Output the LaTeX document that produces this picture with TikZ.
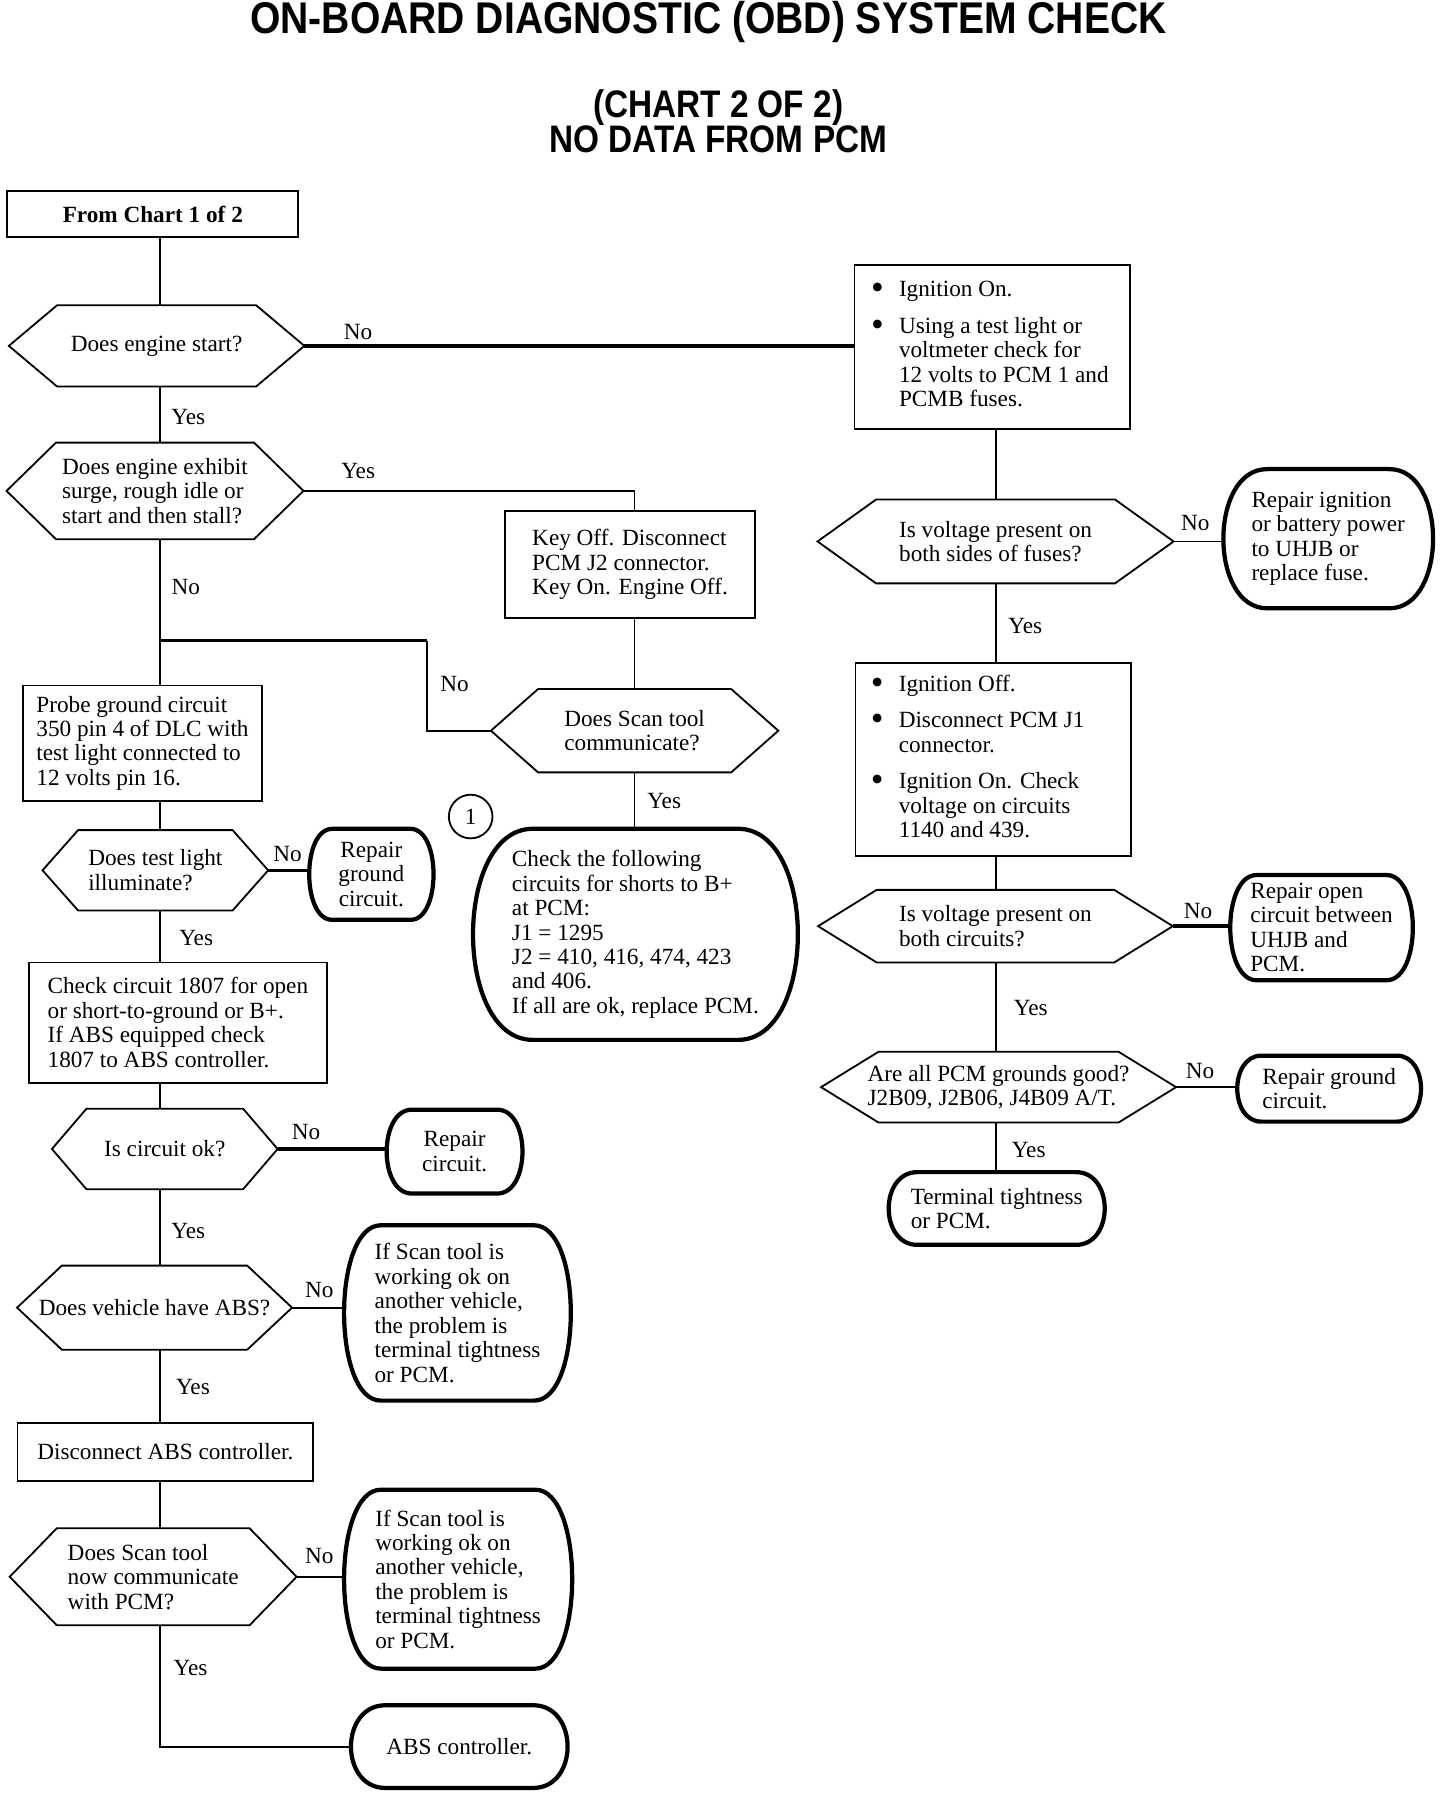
\documentclass[tikz,border=0pt]{standalone}
\usepackage{graphicx}
\usepackage{fontspec}
\setmainfont{Liberation Serif}
\newfontfamily\ttlfont{Liberation Sans}
\usetikzlibrary{calc}
\newcommand\txtf{\fontsize{11.5}{12.1}\selectfont}
\newcommand\bul{\raisebox{-1.4pt}{\fontsize{18}{12}\selectfont\textbullet}}
\newcommand\hexa[2]{\draw[boxline] (#1.west) -- ([xshift=#2*0.02cm]#1.north west) -- ([xshift=-#2*0.02cm]#1.north east) -- (#1.east) -- ([xshift=-#2*0.02cm]#1.south east) -- ([xshift=#2*0.02cm]#1.south west) -- cycle;}
\newcommand\barrel[2]{\draw[termline] ([xshift=#2*0.02cm]#1.north west) -- ([xshift=-#2*0.02cm]#1.north east) .. controls ([xshift=#2*0.00667cm]#1.north east) and ([xshift=#2*0.00667cm]#1.south east) .. ([xshift=-#2*0.02cm]#1.south east) -- ([xshift=#2*0.02cm]#1.south west) .. controls ([xshift=-#2*0.00667cm]#1.south west) and ([xshift=-#2*0.00667cm]#1.north west) .. cycle;}
\begin{document}
\begin{tikzpicture}[x=0.02cm,y=-0.02cm,
  conn/.style={line width=0.9pt},
  thickconn/.style={line width=1.7pt},
  boxline/.style={line width=0.9pt, line join=miter},
  termline/.style={line width=2.1pt},
  sz/.style 2 args={minimum width=#1*0.02cm, minimum height=#2*0.02cm},
  shp/.style={inner sep=0pt, align=left, font=\txtf},
  rectbox/.style={shp, draw, line width=0.9pt},
  lab/.style={font=\txtf, inner sep=1pt}]
\useasboundingbox (0,0) rectangle (1253.2,1563);

% titles
\node[font=\ttlfont\bfseries\fontsize{22}{24}\selectfont] (title) at (616.5,19) {\scalebox{0.88}[1]{ON-BOARD DIAGNOSTIC (OBD) SYSTEM CHECK}};
\node[font=\ttlfont\bfseries\fontsize{19}{17.6}\selectfont, align=center] (sub) at (625,105.5) {\scalebox{0.87}[1]{(CHART 2 OF 2)}\\\scalebox{0.87}[1]{NO DATA FROM PCM}};

% left column
\node[rectbox, sz={253.3}{40.2}, font=\txtf\bfseries] (from) at (133,186.4) {From Chart 1 of 2};
\node[shp, sz={256.5}{70}] (h1) at (136.3,301) {Does engine start?};
\hexa{h1}{42}
\node[shp, sz={257.7}{83.3}] (h2) at (134.9,427.2) {Does engine exhibit\\surge, rough idle or\\start and then stall?};
\hexa{h2}{43}
\node[rectbox, sz={217.4}{93.3}] (keyoff) at (548.3,491.4) {Key Off. Disconnect\\PCM J2 connector.\\Key On. Engine Off.};
\node[shp, sz={249.4}{71.8}] (scan) at (552.3,635.9) {Does Scan tool\\communicate?};
\hexa{scan}{41}
\node[rectbox, sz={208}{100.3}] (probe) at (124,646.7) {Probe ground circuit\\350 pin 4 of DLC with\\test light connected to\\12 volts pin 16.};
\node[shp, sz={195.7}{69.3}] (h4) at (135.2,757.4) {Does test light\\illuminate?};
\hexa{h4}{31}
\node[shp, align=center, sz={107.5}{78.5}] (rg) at (323.2,760.9) {Repair\\ground\\circuit.};
\barrel{rg}{20}
\node[rectbox, sz={259.5}{104.5}] (chk) at (154.8,889.9) {Check circuit 1807 for open\\or short-to-ground or B+.\\If ABS equipped check\\1807 to ABS controller.};
\node[shp, sz={195.7}{69.3}] (h5) at (143.4,999.9) {Is circuit ok?};
\hexa{h5}{30}
\node[shp, align=center, sz={117.5}{72.3}] (rc) at (395.6,1002.2) {Repair\\circuit.};
\barrel{rc}{22}
\node[shp, sz={282}{183}] (cf) at (553,813.1) {Check the following\\circuits for shorts to B+\\at PCM:\\J1 = 1295\\J2 = 410, 416, 474, 423\\and 406.\\If all are ok, replace PCM.};
\barrel{cf}{52}
\node[draw, circle, line width=0.9pt, minimum size=38*0.02cm, inner sep=0pt, font=\txtf] (c1) at (409.6,710.6) {1};
\node[shp, sz={238.6}{72.5}] (h8) at (134.5,1138) {Does vehicle have ABS?};
\hexa{h8}{39}
\node[shp, sz={196.6}{151.9}] (t1) at (398.1,1142.6) {If Scan tool is\\working ok on\\another vehicle,\\the problem is\\terminal tightness\\or PCM.};
\barrel{t1}{32}
\node[rectbox, sz={257.4}{50.5}] (disc) at (143.9,1263.6) {Disconnect ABS controller.};
\node[shp, sz={249}{83.8}] (h9) at (133.3,1372.2) {Does Scan tool\\now communicate\\with PCM?};
\hexa{h9}{41}
\node[shp, sz={197.8}{155}] (t2) at (398.7,1374.3) {If Scan tool is\\working ok on\\another vehicle,\\the problem is\\terminal tightness\\or PCM.};
\barrel{t2}{32}
\node[shp, sz={187.8}{71.3}] (abs) at (399.7,1520) {ABS controller.};
\barrel{abs}{30}

% right column
\node[rectbox, sz={239.8}{142.4}] (ign) at (863.6,301.9) {\makebox[4.22cm][l]{\begin{tabular}{@{}l@{\hspace{7.5pt}}l@{}}\bul & Ignition On.\\[6pt] \bul & Using a test light or\\ & voltmeter check for\\ & 12 volts to PCM 1 and\\ & PCMB fuses.\end{tabular}}};
\node[shp, sz={309.2}{72.3}] (h3) at (866.4,471.2) {Is voltage present on\\both sides of fuses?};
\hexa{h3}{51}
\node[shp, sz={181.8}{120.4}] (rip) at (1155.9,468.8) {Repair ignition\\or battery power\\to UHJB or\\replace fuse.};
\barrel{rip}{38}
\node[rectbox, sz={239.8}{167.8}] (ioff) at (864.4,661.1) {\makebox[4.26cm][l]{\begin{tabular}{@{}l@{\hspace{7.5pt}}l@{}}\bul & Ignition Off.\\[6pt] \bul & Disconnect PCM J1\\ & connector.\\[6pt] \bul & Ignition On. Check\\ & voltage on circuits\\ & 1140 and 439.\end{tabular}}};
\node[shp, sz={308}{62.5}] (h6) at (866.3,806) {Is voltage present on\\both circuits?};
\hexa{h6}{51}
\node[shp, sz={158.2}{90.9}] (ro) at (1150.1,807.3) {Repair open\\circuit between\\UHJB and\\PCM.};
\barrel{ro}{23}
\node[shp, sz={308.3}{60.8}] (h7) at (869,946.1) {Are all PCM grounds good?\\J2B09, J2B06, J4B09 A/T.};
\hexa{h7}{50}
\node[shp, sz={159.2}{56.7}] (rgc) at (1156.7,947.4) {Repair ground\\circuit.};
\barrel{rgc}{21}
\node[shp, sz={187.3}{62.6}] (tt) at (867.4,1051.7) {Terminal tightness\\or PCM.};
\barrel{tt}{25}

% helper coordinates
\coordinate (sp) at (139,0);
\coordinate (rsp) at (867,0);
\coordinate (kx) at (552.2,0);
\coordinate (j) at (139,557.6);
\coordinate (jr) at (371.6,557.6);

% connectors left
\draw[conn] (from.south -| sp) -- (h1.north -| sp);
\draw[conn] (h1.south -| sp) -- (h2.north -| sp);
\draw[thickconn] (h1.east) -- (h1.east -| ign.west);
\draw[conn] (h2.east) -| (kx |- keyoff.north);
\draw[conn] (h2.south -| sp) -- (probe.north -| sp);
\draw[thickconn] (j) -- (jr);
\draw[conn] (jr) |- (scan.west);
\draw[conn] (keyoff.south -| kx) -- (scan.north -| kx);
\draw[conn] (scan.south -| kx) -- (cf.north -| kx);
\draw[conn] (probe.south -| sp) -- (h4.north -| sp);
\draw[thickconn] (h4.east) -- (h4.east -| rg.west);
\draw[conn] (h4.south -| sp) -- (chk.north -| sp);
\draw[conn] (chk.south -| sp) -- (h5.north -| sp);
\draw[thickconn] (h5.east) -- (h5.east -| rc.west);
\draw[conn] (h5.south -| sp) -- (h8.north -| sp);
\draw[conn] (h8.east) -- (h8.east -| t1.west);
\draw[conn] (h8.south -| sp) -- (disc.north -| sp);
\draw[conn] (disc.south -| sp) -- (h9.north -| sp);
\draw[conn] (h9.east) -- (h9.east -| t2.west);
\draw[conn] (h9.south -| sp) |- (abs.west);

% connectors right
\draw[conn] (ign.south -| rsp) -- (h3.north -| rsp);
\draw[conn] (h3.east) -- (h3.east -| rip.west);
\draw[conn] (h3.south -| rsp) -- (ioff.north -| rsp);
\draw[conn] (ioff.south -| rsp) -- (h6.north -| rsp);
\draw[thickconn] (h6.east) -- (h6.east -| ro.west);
\draw[conn] (h6.south -| rsp) -- (h7.north -| rsp);
\draw[conn] (h7.east) -- (h7.east -| rgc.west);
\draw[conn] (h7.south -| rsp) -- (tt.north -| rsp);

% labels
\node[lab] (l1) at (311.7,288.7) {No};
\node[lab] (l2) at (163.8,363) {Yes};
\node[lab] (l3) at (311.7,409.6) {Yes};
\node[lab] (l4) at (161.8,511.1) {No};
\node[lab] (l5) at (395.6,595.5) {No};
\node[lab] (l6) at (578,696.7) {Yes};
\node[lab] (l7) at (250.3,743) {No};
\node[lab] (l8) at (170.7,816) {Yes};
\node[lab] (l9) at (266.3,985.4) {No};
\node[lab] (l10) at (163.9,1071) {Yes};
\node[lab] (l11) at (277.8,1122.5) {No};
\node[lab] (l12) at (167.9,1207.3) {Yes};
\node[lab] (l13) at (277.8,1354.3) {No};
\node[lab] (l14) at (165.9,1451.2) {Yes};
\node[lab] (l15) at (1040.2,455) {No};
\node[lab] (l16) at (892.3,544.5) {Yes};
\node[lab] (l17) at (1042.7,792.4) {No};
\node[lab] (l18) at (897,877.4) {Yes};
\node[lab] (l19) at (1044.4,931.8) {No};
\node[lab] (l20) at (895.2,1001.2) {Yes};
\end{tikzpicture}
\end{document}
